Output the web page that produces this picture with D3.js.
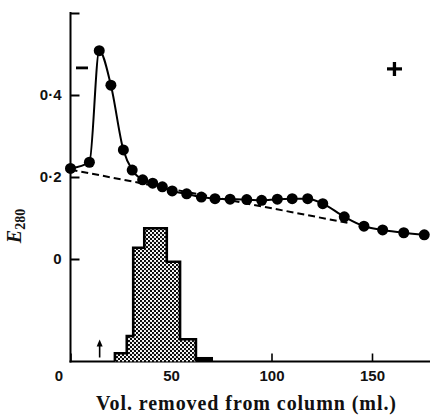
<!DOCTYPE html>
<html><head><meta charset="utf-8">
<script src="https://cdn.jsdelivr.net/npm/d3@7"></script>
<style>html,body{margin:0;padding:0;background:#fff}</style>
</head><body>
<svg id="c" width="430" height="417"></svg>
<script>
// Elution profile (E280) : volume (ml) and extinction
const volume = [0, 9.4, 14.3, 20.1, 26.3, 30.7, 35.9, 40.9, 45.7, 50.6, 57.8, 65.1, 71.9, 79.4, 87.7, 95.1, 102.9, 110.3, 118, 125.5, 136.2, 146, 155.3, 165.8, 176];
const extinction = [0.221, 0.236, 0.508, 0.424, 0.266, 0.217, 0.193, 0.185, 0.176, 0.166, 0.159, 0.151, 0.147, 0.146, 0.145, 0.143, 0.146, 0.147, 0.147, 0.135, 0.103, 0.080, 0.071, 0.064, 0.059];
// Dashed baseline
const baseVol = [0, 138];
const baseE = [0.218, 0.088];
// Histogram (relative units), bin edges in ml
const histEdges = [22.1, 28.0, 31.2, 36.7, 47.9, 54.5, 62.4, 70.9];
const histValues = [6.2, 19.1, 85.4, 100, 74.9, 16.7, 3.4];
// Arrow position (ml)
const arrowAt = 14.5;
// Ticks
const yTicks = [0, 0.2, 0.4, 0.6];
const yTickLabels = ["0", "0·2", "0·4", ""];
const xTicks = [0, 50, 100, 150];
const xTickLabels = ["0", "50", "100", "150"];

const svg = d3.select("#c");
const x = d3.scaleLinear().domain([0, 150]).range([70.5, 372]);
const y = d3.scaleLinear().domain([-0.25, 0.6]).range([361.5, 13]);
const hY = d3.scaleLinear().domain([0, 100]).range([361.5, 228.3]);

// pattern for histogram
const defs = svg.append("defs");
const pat = defs.append("pattern").attr("id", "dots").attr("patternUnits", "userSpaceOnUse")
  .attr("width", 4).attr("height", 4);
pat.append("rect").attr("width", 4).attr("height", 4).attr("fill", "#fff");
pat.append("circle").attr("cx", 1).attr("cy", 1).attr("r", 1.15).attr("fill", "#000");
pat.append("circle").attr("cx", 3).attr("cy", 3).attr("r", 1.15).attr("fill", "#000");

const tickFont = "'Liberation Sans', Arial, sans-serif";

// Y axis
const yAxis = d3.axisLeft(y).tickValues(yTicks).tickFormat((d, i) => yTickLabels[i])
  .tickSizeInner(-9).tickSizeOuter(0).tickPadding(9);
const gy = svg.append("g").attr("transform", `translate(${x(0)},0)`).call(yAxis);
gy.select(".domain").remove();
gy.selectAll(".tick line").attr("stroke", "#000").attr("stroke-width", 2);
gy.selectAll(".tick text").attr("font-family", tickFont).attr("font-weight", "bold")
  .attr("font-size", 15).attr("fill", "#111");
svg.append("line").attr("x1", x(0)).attr("x2", x(0)).attr("y1", y(0.6) - 1).attr("y2", y(-0.25) + 1)
  .attr("stroke", "#000").attr("stroke-width", 2);

// X axis
const xAxis = d3.axisBottom(x).tickValues(xTicks).tickFormat((d, i) => xTickLabels[i])
  .tickSizeInner(-8).tickSizeOuter(0).tickPadding(9);
const gx = svg.append("g").attr("transform", `translate(0,${y(-0.25)})`).call(xAxis);
gx.select(".domain").remove();
gx.selectAll(".tick line").attr("stroke", "#000").attr("stroke-width", 1.6);
gx.selectAll(".tick text").attr("font-family", tickFont).attr("font-weight", "bold")
  .attr("font-size", 15).attr("fill", "#111")
  .attr("dx", d => d === 0 ? -12 : 0);
svg.append("line").attr("x1", x(0) - 1).attr("x2", 430).attr("y1", y(-0.25)).attr("y2", y(-0.25))
  .attr("stroke", "#000").attr("stroke-width", 2);

// Histogram
const histMain = histValues.length - 1;
const pts = [[histEdges[0], 0]];
for (let i = 0; i < histMain; i++) {
  pts.push([histEdges[i], histValues[i]]);
  pts.push([histEdges[i + 1], histValues[i]]);
}
pts.push([histEdges[histMain], 0]);
svg.append("path")
  .attr("d", d3.line().x(d => x(d[0])).y(d => hY(d[1]))(pts))
  .attr("fill", "url(#dots)").attr("stroke", "#000").attr("stroke-width", 2.6)
  .attr("stroke-linejoin", "miter");
svg.append("rect")
  .attr("x", x(histEdges[histMain])).attr("width", x(histEdges[histMain + 1]) - x(histEdges[histMain]))
  .attr("y", hY(histValues[histMain])).attr("height", hY(0) - hY(histValues[histMain]))
  .attr("fill", "#000");

// Arrow
svg.append("line").attr("x1", x(arrowAt)).attr("x2", x(arrowAt))
  .attr("y1", hY(0) - 4).attr("y2", hY(0) - 18).attr("stroke", "#000").attr("stroke-width", 1.6);
svg.append("path")
  .attr("d", `M${x(arrowAt) - 3},${hY(0) - 15} L${x(arrowAt)},${hY(0) - 22} L${x(arrowAt) + 3},${hY(0) - 15} Z`)
  .attr("fill", "#000");

// Dashed baseline
svg.append("path")
  .attr("d", d3.line().x((d, i) => x(baseVol[i])).y((d, i) => y(baseE[i]))(baseVol))
  .attr("fill", "none").attr("stroke", "#000").attr("stroke-width", 2)
  .attr("stroke-dasharray", "7,4");

// Profile line
const data = volume.map((v, i) => ({ v, e: extinction[i] }));
svg.append("path")
  .attr("d", d3.line().x(d => x(d.v)).y(d => y(d.e)).curve(d3.curveMonotoneX)(data))
  .attr("fill", "none").attr("stroke", "#000").attr("stroke-width", 2);
svg.selectAll("circle.pt").data(data).join("circle").attr("class", "pt")
  .attr("cx", d => x(d.v)).attr("cy", d => y(d.e)).attr("r", 5.5).attr("fill", "#000");

// Signs (minus and plus drawn as bars)
svg.append("rect").attr("x", 76).attr("y", 66.5).attr("width", 12).attr("height", 2.8).attr("fill", "#000");
svg.append("rect").attr("x", 387).attr("y", 67.3).attr("width", 15).attr("height", 3.2).attr("fill", "#000");
svg.append("rect").attr("x", 392.8).attr("y", 62).attr("width", 3.3).attr("height", 14).attr("fill", "#000");

// Y label
const yl = svg.append("text").attr("transform", "translate(21,226) rotate(-90)")
  .attr("text-anchor", "middle").attr("font-family", "'Liberation Serif', 'Times New Roman', serif")
  .attr("font-weight", "bold").attr("fill", "#111");
yl.append("tspan").attr("font-style", "italic").attr("font-size", 20).text("E");
yl.append("tspan").attr("font-size", 14).attr("dy", 4).text("280");

// X label
svg.append("text").attr("x", 246).attr("y", 410).attr("text-anchor", "middle")
  .attr("font-family", "'Liberation Serif', 'Times New Roman', serif").attr("font-weight", "bold")
  .attr("font-size", 20).attr("fill", "#111")
  .attr("textLength", 300).attr("lengthAdjust", "spacing")
  .text("Vol. removed from column (ml.)");
</script>
</body></html>
